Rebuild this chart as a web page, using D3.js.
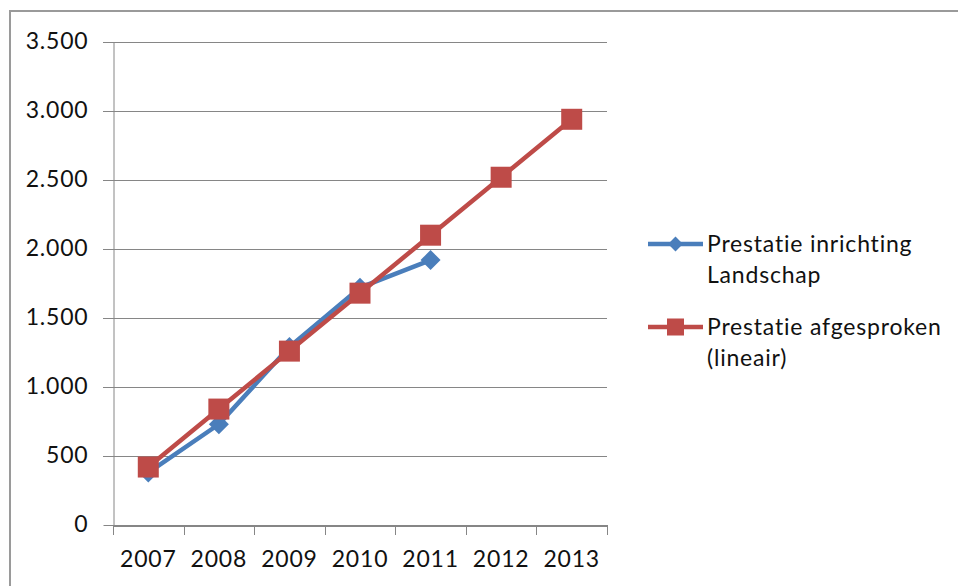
<!DOCTYPE html>
<html><head><meta charset="utf-8">
<script src="https://cdn.jsdelivr.net/npm/d3@7"></script>
<style>
html,body{margin:0;padding:0;background:#fff;}
text{font-family:Lato,"Open Sans",sans-serif;fill:#111;letter-spacing:0.8px;}
</style></head><body>
<svg id="c" width="958" height="586"></svg>
<script>
const years = ["2007","2008","2009","2010","2011","2012","2013"];
const blueValues = [380, 730, 1290, 1720, 1920];
const redValues = [420, 840, 1260, 1680, 2100, 2520, 2940];
const yTicks = [0,500,1000,1500,2000,2500,3000,3500];
const seriesNames = [["Prestatie inrichting","Landschap"],["Prestatie afgesproken","(lineair)"]];
const colors = ["#4A7EBB","#BE4B48"];

const svg = d3.select("#c");
const fmt = v => d3.format(",")(v).replace(/,/g,".");

svg.append("rect").attr("x",10).attr("y",11).attr("width",1000).attr("height",1000)
  .attr("fill","none").attr("stroke","#9a9a9a").attr("stroke-width",2);

const x = d3.scaleBand().domain(years).range([113,607]);
const y = d3.scaleLinear().domain([0,3500]).range([525,42]);

// gridlines
svg.append("g").selectAll("line").data(yTicks.filter(d=>d>0)).join("line")
  .attr("x1",103).attr("x2",607).attr("y1",d=>y(d)+0.5).attr("y2",d=>y(d)+0.5)
  .attr("stroke","#868686").attr("stroke-width",1);

// y axis
const ya = svg.append("g").attr("transform","translate(113.5,0)")
  .call(d3.axisLeft(y).tickValues(yTicks).tickSize(10).tickSizeOuter(0).tickPadding(15).tickFormat(fmt));
ya.select(".domain").attr("stroke","#868686");
ya.selectAll(".tick line").attr("stroke","#868686");
ya.selectAll("text").style("font-size","23px").attr("dy","0.28em");

// x axis
const xa = svg.append("g").attr("transform","translate(0,525.5)")
  .call(d3.axisBottom(x).tickSize(0).tickPadding(23));
xa.select(".domain").attr("stroke","#868686").attr("stroke-width",2);
xa.selectAll("text").style("font-size","23px").attr("dy","0.8em");
svg.append("g").selectAll("line").data(years.concat(["end"])).join("line")
  .attr("x1",(d,i)=>Math.round(113+i*x.step())+0.5).attr("x2",(d,i)=>Math.round(113+i*x.step())+0.5)
  .attr("y1",525).attr("y2",535).attr("stroke","#868686");

const cx = (d,i) => x(years[i]) + x.bandwidth()/2;
const line = d3.line().x((d,i)=>cx(d,i)).y(d=>y(d));

// blue series
svg.append("path").datum(blueValues).attr("d",line).attr("fill","none")
  .attr("stroke",colors[0]).attr("stroke-width",4.5).attr("stroke-linejoin","round");
svg.append("g").selectAll("path").data(blueValues).join("path")
  .attr("d",d3.symbol(d3.symbolSquare,200))
  .attr("transform",(d,i)=>`translate(${cx(d,i)},${y(d)}) rotate(45)`)
  .attr("fill",colors[0]);

// red series
svg.append("path").datum(redValues).attr("d",line).attr("fill","none")
  .attr("stroke",colors[1]).attr("stroke-width",4.5).attr("stroke-linejoin","round");
svg.append("g").selectAll("rect").data(redValues).join("rect")
  .attr("x",(d,i)=>cx(d,i)-10.5).attr("y",d=>y(d)-10.5).attr("width",21).attr("height",21)
  .attr("fill",colors[1]);

// legend
const legY = [244, 327];
const lg = svg.append("g");
seriesNames.forEach((names,k)=>{
  lg.append("line").attr("x1",648).attr("x2",703).attr("y1",legY[k]).attr("y2",legY[k])
    .attr("stroke",colors[k]).attr("stroke-width",4.5);
  if(k===0){
    lg.append("path").attr("d",d3.symbol(d3.symbolSquare,110))
      .attr("transform",`translate(675.5,${legY[k]}) rotate(45)`).attr("fill",colors[k]);
  } else {
    lg.append("rect").attr("x",667).attr("y",legY[k]-8.5).attr("width",17).attr("height",17).attr("fill",colors[k]);
  }
  names.forEach((t,j)=>{
    lg.append("text").attr("x",707).attr("y",legY[k]+8+j*31).style("font-size","23px").text(t);
  });
});
</script></body></html>
